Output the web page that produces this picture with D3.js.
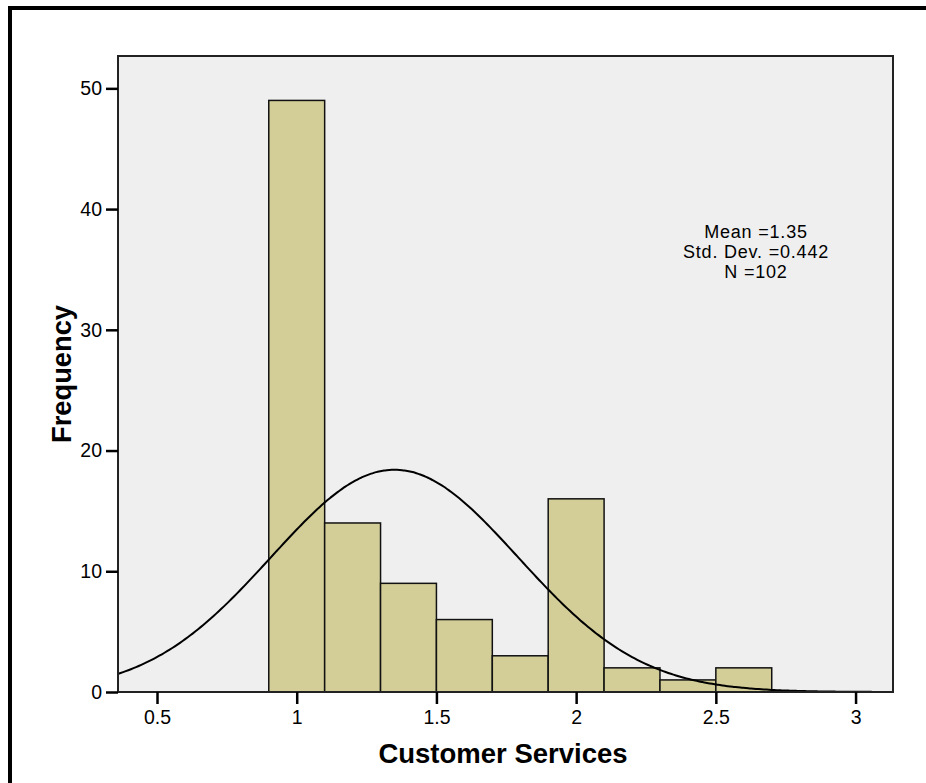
<!DOCTYPE html>
<html>
<head>
<meta charset="utf-8">
<script src="https://cdn.jsdelivr.net/npm/d3@7"></script>
<style>
  html, body { margin: 0; padding: 0; background: #fff; }
  svg { display: block; font-family: "Liberation Sans", Arial, sans-serif; }
</style>
</head>
<body>
<svg id="chart" width="926" height="783"></svg>
<script>
// ---- Data ----
const binStarts = [0.9, 1.1, 1.3, 1.5, 1.7, 1.9, 2.1, 2.3, 2.5];
const binWidth = 0.2;
const frequencies = [49, 14, 9, 6, 3, 16, 2, 1, 2];
const xTicks = [0.5, 1, 1.5, 2, 2.5, 3];
const xTickLabels = ["0.5", "1", "1.5", "2", "2.5", "3"];
const yTicks = [0, 10, 20, 30, 40, 50];
const statsLabels = ["Mean =1.35", "Std. Dev. =0.442", "N =102"];
const mean = 1.35, sd = 0.442, n = 102;
const xTitle = "Customer Services";
const yTitle = "Frequency";

// ---- Layout ----
const svg = d3.select("#chart");
const plot = { left: 118, right: 893, top: 56, bottom: 692 };

const x = d3.scaleLinear().domain([0.3604, 3.134]).range([plot.left, plot.right]);
const y = d3.scaleLinear().domain([0, 52.68]).range([plot.bottom, plot.top]);

// outer frame (top and left)
svg.append("rect").attr("x", 8).attr("y", 6).attr("width", 918).attr("height", 4).attr("fill", "#000");
svg.append("rect").attr("x", 8).attr("y", 6).attr("width", 4).attr("height", 777).attr("fill", "#000");

// plot background
svg.append("rect")
  .attr("x", plot.left).attr("y", plot.top)
  .attr("width", plot.right - plot.left).attr("height", plot.bottom - plot.top)
  .attr("fill", "#efefef");

// bars
svg.append("g").selectAll("rect").data(binStarts).join("rect")
  .attr("x", (d) => x(d))
  .attr("y", (d, i) => y(frequencies[i]))
  .attr("width", (d) => x(d + binWidth) - x(d))
  .attr("height", (d, i) => y(0) - y(frequencies[i]))
  .attr("fill", "#d3ce98")
  .attr("stroke", "#111")
  .attr("stroke-width", 1.5);

// normal curve
const binPdf = (v) => n * binWidth / (sd * Math.sqrt(2 * Math.PI)) * Math.exp(-0.5 * Math.pow((v - mean) / sd, 2));
const xs = d3.range(0, 301).map(i => x.domain()[0] + (x.domain()[1] - x.domain()[0]) * i / 300);
svg.append("path")
  .datum(xs)
  .attr("d", d3.line().x(d => x(d)).y(d => y(binPdf(d))).curve(d3.curveBasis))
  .attr("fill", "none")
  .attr("stroke", "#000")
  .attr("stroke-width", 2);

// plot border
svg.append("rect")
  .attr("x", plot.left).attr("y", plot.top)
  .attr("width", plot.right - plot.left).attr("height", plot.bottom - plot.top)
  .attr("fill", "none").attr("stroke", "#222").attr("stroke-width", 2);

// axes
const xAxis = d3.axisBottom(x).tickValues(xTicks).tickFormat((d, i) => xTickLabels[i]).tickSize(12).tickPadding(6);
const gx = svg.append("g").attr("transform", `translate(0,${plot.bottom})`).call(xAxis);
gx.select(".domain").remove();
gx.selectAll(".tick line").attr("stroke", "#000").attr("stroke-width", 2.5);
gx.selectAll(".tick text").attr("font-size", 19.5).attr("fill", "#000").attr("font-family", "Liberation Sans, Arial, sans-serif");

const yAxis = d3.axisLeft(y).tickValues(yTicks).tickFormat(d3.format("d")).tickSize(12).tickPadding(4);
const gy = svg.append("g").attr("transform", `translate(${plot.left},0)`).call(yAxis);
gy.select(".domain").remove();
gy.selectAll(".tick line").attr("stroke", "#000").attr("stroke-width", 2.5);
gy.selectAll(".tick text").attr("font-size", 19.5).attr("fill", "#000").attr("font-family", "Liberation Sans, Arial, sans-serif");

// stats text
svg.append("g").selectAll("text").data(statsLabels).join("text")
  .attr("x", 756)
  .attr("y", (d, i) => 238 + i * 20.2)
  .attr("text-anchor", "middle")
  .attr("font-size", 18)
  .attr("letter-spacing", 0.8)
  .attr("fill", "#000")
  .text(d => d);

// axis titles
svg.append("text")
  .attr("x", 503).attr("y", 763)
  .attr("text-anchor", "middle")
  .attr("font-size", 27.5).attr("font-weight", "bold")
  .attr("fill", "#000")
  .text(xTitle);

svg.append("text")
  .attr("transform", "translate(71,374) rotate(-90)")
  .attr("text-anchor", "middle")
  .attr("font-size", 27.3).attr("font-weight", "bold")
  .attr("fill", "#000")
  .text(yTitle);
</script>
</body>
</html>
